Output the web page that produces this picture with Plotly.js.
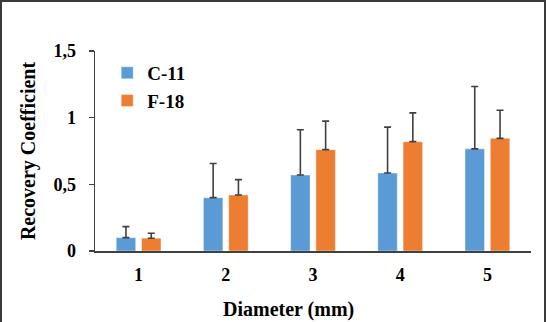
<!DOCTYPE html>
<html>
<head>
<meta charset="utf-8">
<script src="https://cdn.plot.ly/plotly-3.0.1.min.js"></script>
<style>
  html, body { margin: 0; padding: 0; background: #fff; }
  #wrap { position: relative; width: 548px; height: 322px; overflow: hidden; }
  #chart { position: absolute; left: 0; top: 0; width: 548px; height: 322px; }
  #frame {
    position: absolute; left: 0; top: 0; width: 542px; height: 340px;
    border-left: 2px solid #3a3a3a; border-top: 2px solid #3a3a3a; border-right: 2px solid #3a3a3a;
    pointer-events: none;
  }
</style>
</head>
<body>
<div id="wrap">
  <div id="chart"></div>
  <div id="frame"></div>
</div>
<script>
// Recovery coefficient per sphere diameter, two isotopes (mean + one-sided SD)
const diameters = ['1', '2', '3', '4', '5'];
const c11Mean = [0.10, 0.40, 0.57, 0.585, 0.766];
const c11Sd   = [0.083, 0.256, 0.339, 0.344, 0.468];
const f18Mean = [0.096, 0.42, 0.76, 0.82, 0.845];
const f18Sd   = [0.037, 0.115, 0.214, 0.216, 0.211];
const yTicks  = [0, 0.5, 1, 1.5];

const serif = 'Liberation Serif, Times New Roman, serif';
const errStyle = (arr) => ({
  type: 'data', array: arr, symmetric: false,
  arrayminus: arr.map(() => 0),
  color: '#404040', thickness: 1.6, width: 3.5
});

const traces = [
  {
    type: 'bar', name: 'C-11', x: diameters, y: c11Mean,
    marker: { color: '#5B9BD5', line: { color: 'rgba(255,255,255,0.5)', width: 0.8 } },
    error_y: errStyle(c11Sd)
  },
  {
    type: 'bar', name: 'F-18', x: diameters, y: f18Mean,
    marker: { color: '#ED7D31', line: { color: 'rgba(255,255,255,0.5)', width: 0.8 } },
    error_y: errStyle(f18Sd)
  }
];

const layout = {
  width: 548, height: 322,
  margin: { l: 95, r: 17, t: 51, b: 71 },
  paper_bgcolor: '#fff', plot_bgcolor: '#fff',
  separators: ', ',
  barmode: 'group', bargap: 0.42, bargroupgap: 0.23,
  font: { family: serif, size: 18, color: '#000', weight: 'bold' },
  showlegend: true,
  legend: {
    x: 0.028, y: 0.985, xanchor: 'left', yanchor: 'top',
    bgcolor: 'rgba(0,0,0,0)',
    font: { family: serif, size: 19, color: '#000', weight: 'bold' }
  },
  xaxis: {
    type: 'category',
    showline: true, linecolor: '#404040', linewidth: 1.5,
    showgrid: false, zeroline: false, ticks: '',
    tickfont: { family: serif, size: 18, weight: 'bold' },
    ticklabelstandoff: 7
  },
  yaxis: {
    range: [0, 1.5], tickvals: yTicks,
    showline: true, linecolor: '#404040', linewidth: 1.5,
    ticks: 'outside', ticklen: 5, tickcolor: '#404040', tickwidth: 1.5,
    showgrid: false, zeroline: false,
    tickfont: { family: serif, size: 18, weight: 'bold' },
    ticklabelstandoff: 9,
    title: { text: 'Recovery Coefficient', font: { family: serif, size: 20, weight: 'bold' }, standoff: 12 }
  },
  annotations: [{
    text: 'Diameter (mm)', xref: 'paper', yref: 'paper',
    x: (288 - 95) / 436, y: -0.29, xanchor: 'center', yanchor: 'middle',
    showarrow: false, font: { family: serif, size: 20, weight: 'bold', color: '#000' }
  }]
};

Plotly.newPlot('chart', traces, layout, { displayModeBar: false, staticPlot: true });
</script>
</body>
</html>
